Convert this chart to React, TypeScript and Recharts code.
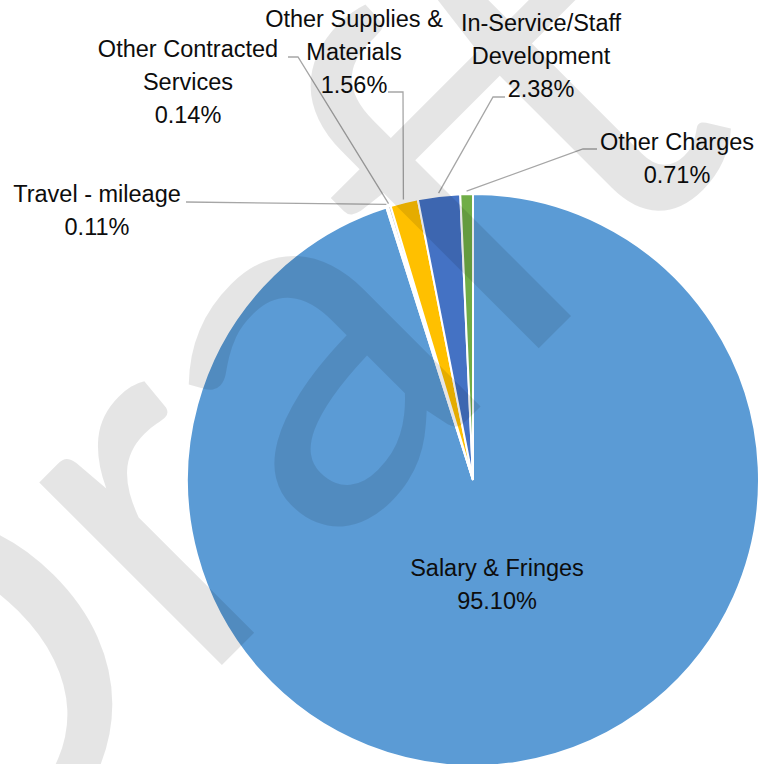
import React from 'react';
import { PieChart, Pie, Cell } from 'recharts';

const categories = [
  'Salary & Fringes',
  'Travel - mileage',
  'Other Contracted Services',
  'Other Supplies & Materials',
  'In-Service/Staff Development',
  'Other Charges',
];
const values = [95.1, 0.11, 0.14, 1.56, 2.38, 0.71];
const colors = ['#5B9BD5', '#ED7D31', '#A5A5A5', '#FFC000', '#4472C4', '#70AD47'];
const labelText = [
  ['Salary & Fringes'],
  ['Travel - mileage'],
  ['Other Contracted', 'Services'],
  ['Other Supplies &', 'Materials'],
  ['In-Service/Staff', 'Development'],
  ['Other Charges'],
];

// label placement: text centre x, first baseline y, leader points (label end, elbow)
const labelLayout: { x: number; y: number; leader: number[][] | null }[] = [
  { x: 497, y: 576, leader: null },
  { x: 97, y: 202, leader: [[186, 202]] },
  { x: 188, y: 57, leader: [[288, 57], [298, 57]] },
  { x: 354, y: 27, leader: [[388, 92], [403, 92]] },
  { x: 541, y: 31, leader: [[505, 97], [493, 97]] },
  { x: 677, y: 150, leader: [[597, 149], [583, 149]] },
];

const data = categories.map((name, i) => ({ name, value: values[i] }));

const RAD = Math.PI / 180;
const FONT = '"Liberation Sans", Arial, sans-serif';
const LINE_H = 33;

const renderLabel = (props: any) => {
  const { cx, cy, midAngle, outerRadius, index, value } = props;
  const lay = labelLayout[index];
  const lines = [...labelText[index], `${Number(value).toFixed(2)}%`];
  const r = outerRadius + 3;
  const ax = cx + r * Math.cos(-midAngle * RAD);
  const ay = cy + r * Math.sin(-midAngle * RAD);
  let path = '';
  if (lay.leader) {
    const pts = [...lay.leader, [ax, ay]];
    path = pts.map((p, k) => `${k === 0 ? 'M' : 'L'}${p[0]},${p[1]}`).join(' ');
  }
  return (
    <g key={`lbl-${index}`}>
      {path && <path d={path} stroke="#A6A6A6" strokeWidth={1.3} fill="none" />}
      <text
        x={lay.x}
        y={lay.y}
        textAnchor="middle"
        fontFamily={FONT}
        fontSize={23.5}
        fill="#0D0D0D"
      >
        {lines.map((t, k) => (
          <tspan key={k} x={lay.x} y={lay.y + k * LINE_H}>
            {t}
          </tspan>
        ))}
      </text>
    </g>
  );
};

export default function App() {
  return (
    <div style={{ position: 'absolute', left: 0, top: 0, width: 765, height: 764, background: '#fff' }}>
      <PieChart width={765} height={764} margin={{ top: 0, right: 0, bottom: 0, left: 0 }}>
        <Pie
          data={data}
          dataKey="value"
          nameKey="name"
          cx={473}
          cy={480}
          outerRadius={286}
          startAngle={90}
          endAngle={-270}
          stroke="#FFFFFF"
          strokeWidth={2}
          label={renderLabel}
          labelLine={false}
          isAnimationActive={false}
        >
          {data.map((d, i) => (
            <Cell key={d.name} fill={colors[i]} />
          ))}
        </Pie>
      </PieChart>
      <svg
        width={765}
        height={764}
        style={{ position: 'absolute', left: 0, top: 0, pointerEvents: 'none' }}
      >
        <text
          x={-74}
          y={961}
          transform="rotate(-45 -74 961)"
          fontFamily="Lato, sans-serif"
          fontSize={510}
          fill="#000"
          fillOpacity={0.1}
        >
          Draft
        </text>
      </svg>
    </div>
  );
}
